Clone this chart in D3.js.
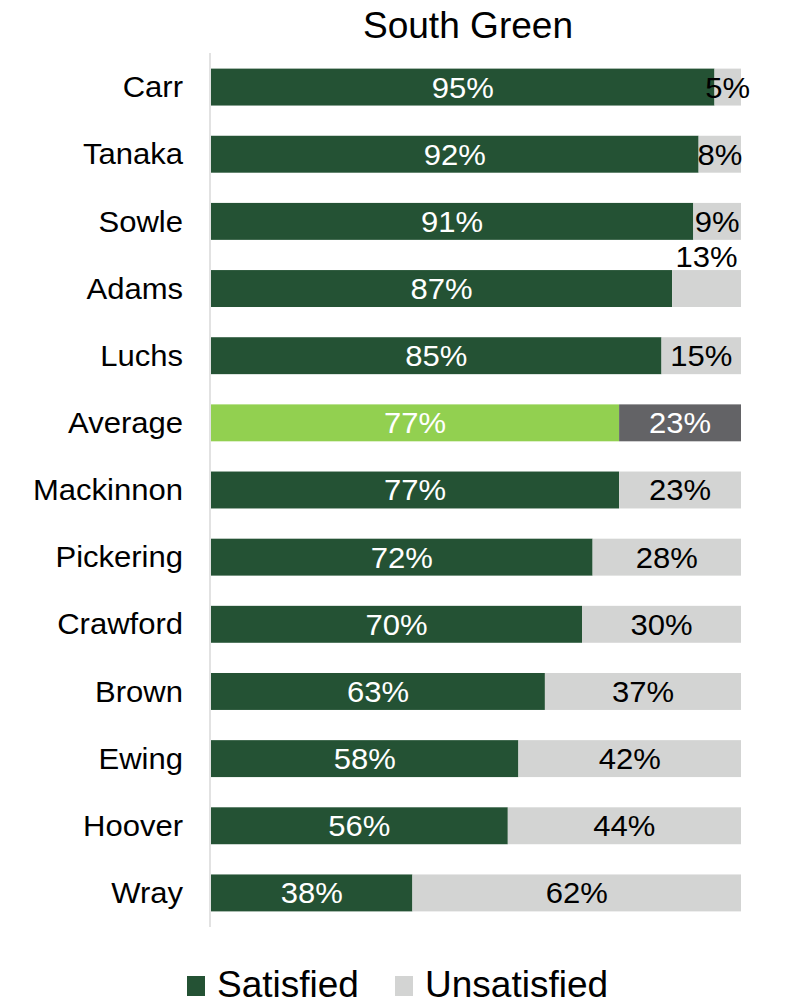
<!DOCTYPE html>
<html>
<head>
<meta charset="utf-8">
<script src="https://cdn.jsdelivr.net/npm/d3@7"></script>
<style>
  html, body { margin: 0; padding: 0; background: #ffffff; }
  svg { display: block; font-family: "Liberation Sans", Arial, sans-serif; }
</style>
</head>
<body>
<svg id="chart" width="789" height="1003"></svg>
<script>
// Satisfaction by person, sorted high to low, with the group average in its rank
const categories = ["Carr", "Tanaka", "Sowle", "Adams", "Luchs", "Average", "Mackinnon",
  "Pickering", "Crawford", "Brown", "Ewing", "Hoover", "Wray"];
const satisfied = [95, 92, 91, 87, 85, 77, 77, 72, 70, 63, 58, 56, 38];
const unsatisfied = [5, 8, 9, 13, 15, 23, 23, 28, 30, 37, 42, 44, 62];
const seriesNames = ["Satisfied", "Unsatisfied"];
const title = "South Green";

const colors = {
  satisfied: "#245234",
  unsatisfied: "#d3d4d3",
  avgSatisfied: "#92d050",
  avgUnsatisfied: "#636366"
};

const svg = d3.select("#chart");
const left = 211, right = 741;
const labelSize = 29, stretch = 1.07;

const x = d3.scaleLinear().domain([0, 100]).range([left, right]);
const y = d3.scaleBand().domain(categories).range([53.5, 926.5]).paddingInner(0.45).paddingOuter(0.225);

const rows = categories.map((c, i) => ({ cat: c, s: satisfied[i], u: unsatisfied[i], avg: c === "Average" }));

// Text drawn slightly wide, anchored at (tx, ty)
function placeWide(sel, fx, fy, sx) {
  return sel
    .attr("transform", (d, i) => `translate(${fx(d, i)},${fy(d, i)}) scale(${sx},1)`)
    .attr("x", 0).attr("y", 0);
}

// Title
svg.append("text")
  .attr("transform", `translate(468,38) scale(1.03,1)`)
  .attr("text-anchor", "middle")
  .attr("font-size", 36)
  .attr("fill", "#000")
  .text(title);

// Category axis line
svg.append("line")
  .attr("x1", 210).attr("x2", 210)
  .attr("y1", 53).attr("y2", 927)
  .attr("stroke", "#d9d9d9").attr("stroke-width", 1.5);

// Category labels
placeWide(
  svg.append("g").selectAll("text").data(rows).join("text"),
  () => 183, d => y(d.cat) + y.bandwidth() / 2, stretch)
  .attr("dy", "0.35em")
  .attr("text-anchor", "end")
  .attr("font-size", labelSize)
  .attr("fill", "#000")
  .text(d => d.cat);

// Satisfied segments
svg.append("g").selectAll("rect").data(rows).join("rect")
  .attr("x", x(0))
  .attr("y", d => y(d.cat))
  .attr("width", d => x(d.s) - x(0))
  .attr("height", y.bandwidth())
  .attr("fill", d => d.avg ? colors.avgSatisfied : colors.satisfied);

// Unsatisfied segments
svg.append("g").selectAll("rect").data(rows).join("rect")
  .attr("x", d => x(d.s))
  .attr("y", d => y(d.cat))
  .attr("width", d => x(d.s + d.u) - x(d.s))
  .attr("height", y.bandwidth())
  .attr("fill", d => d.avg ? colors.avgUnsatisfied : colors.unsatisfied);

// Value labels inside satisfied segments
placeWide(
  svg.append("g").selectAll("text").data(rows).join("text"),
  d => (x(0) + x(d.s)) / 2, d => y(d.cat) + y.bandwidth() / 2, stretch)
  .attr("dy", "0.36em")
  .attr("text-anchor", "middle")
  .attr("font-size", labelSize)
  .attr("fill", "#ffffff")
  .text(d => d.s + "%");

// Value labels for unsatisfied segments; the Adams label sits above its bar
const liftedLabels = ["Adams"];
placeWide(
  svg.append("g").selectAll("text").data(rows).join("text"),
  d => (x(d.s) + x(d.s + d.u)) / 2,
  d => y(d.cat) + y.bandwidth() / 2 + (liftedLabels.includes(d.cat) ? -32 : 0), stretch)
  .attr("dy", "0.36em")
  .attr("text-anchor", "middle")
  .attr("font-size", labelSize)
  .attr("fill", d => d.avg ? "#ffffff" : "#000000")
  .text(d => d.u + "%");

// Legend
const legend = svg.append("g");
const legendItems = [
  { name: seriesNames[0], color: colors.satisfied, x: 187 },
  { name: seriesNames[1], color: colors.unsatisfied, x: 395 }
];
legendItems.forEach(it => {
  legend.append("rect")
    .attr("x", it.x).attr("y", 976)
    .attr("width", 18).attr("height", 20)
    .attr("fill", it.color);
  legend.append("text")
    .attr("x", it.x + 30).attr("y", 997)
    .attr("font-size", 37)
    .attr("fill", "#000")
    .text(it.name);
});
</script>
</body>
</html>
